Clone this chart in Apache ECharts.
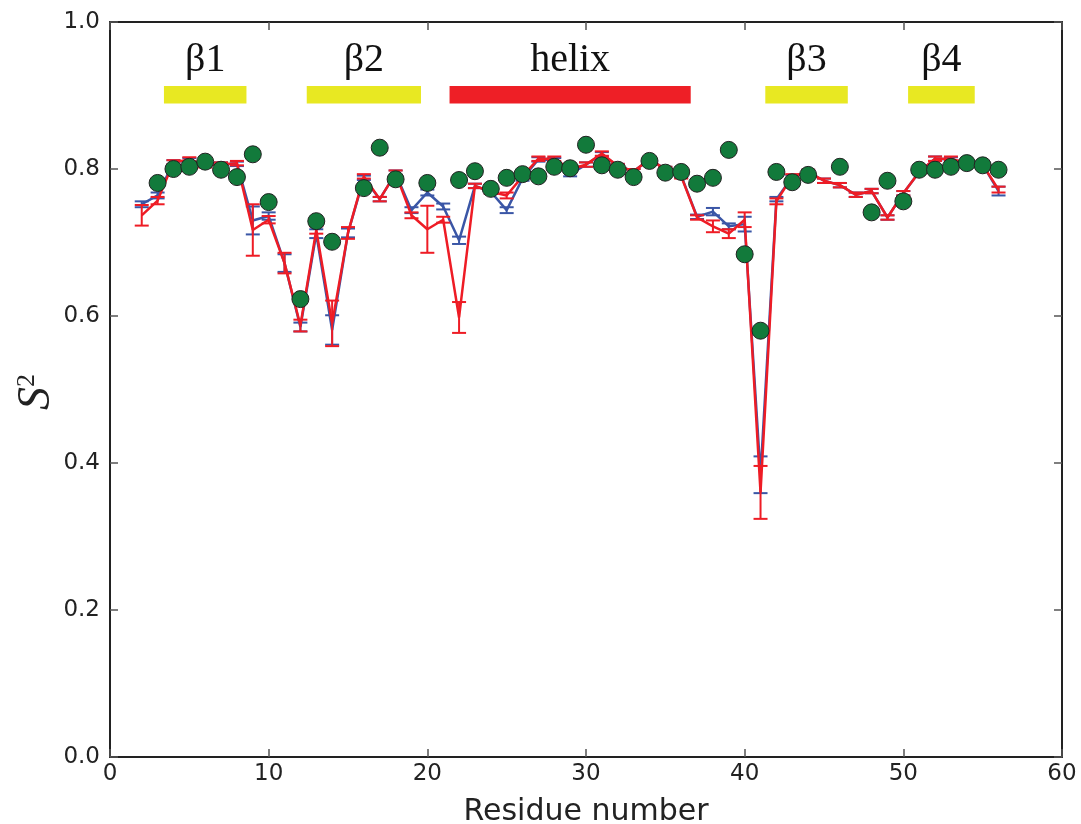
<!DOCTYPE html>
<html>
<head>
<meta charset="utf-8">
<script src="https://cdn.jsdelivr.net/npm/echarts@6/dist/echarts.min.js"></script>
<style>html,body{margin:0;padding:0;background:#fff;overflow:hidden;}#c{width:1081px;height:824px;}</style>
</head>
<body>
<div id="c"></div>
<script>
const residues = [2,3,4,5,6,7,8,9,10,11,12,13,14,15,16,17,18,19,20,21,22,23,24,25,26,27,28,29,30,31,32,33,34,35,36,37,38,39,40,41,42,43,44,45,46,47,48,49,50,51,52,53,54,55,56];
const blueS2 = [0.752,0.764,0.809,0.812,0.806,0.806,0.807,0.730,0.736,0.672,0.585,0.712,0.581,0.713,0.788,0.759,0.794,0.744,0.768,0.749,0.703,0.777,0.769,0.744,0.787,0.813,0.812,0.793,0.806,0.820,0.804,0.797,0.813,0.800,0.791,0.735,0.742,0.722,0.725,0.384,0.759,0.789,0.796,0.784,0.778,0.765,0.770,0.734,0.767,0.796,0.814,0.813,0.807,0.806,0.770];
const blueErr = [0.004,0.004,0.003,0.003,0.003,0.003,0.003,0.019,0.005,0.012,0.006,0.006,0.020,0.006,0.003,0.003,0.004,0.004,0.004,0.004,0.005,0.003,0.003,0.004,0.003,0.003,0.003,0.003,0.003,0.003,0.003,0.003,0.003,0.003,0.003,0.003,0.005,0.004,0.010,0.025,0.003,0.003,0.003,0.003,0.003,0.003,0.003,0.003,0.003,0.003,0.003,0.003,0.003,0.003,0.006];
const redS2 = [0.737,0.757,0.809,0.813,0.805,0.806,0.808,0.717,0.731,0.672,0.587,0.717,0.590,0.713,0.790,0.759,0.794,0.737,0.718,0.731,0.598,0.777,0.769,0.764,0.790,0.814,0.814,0.800,0.806,0.821,0.804,0.797,0.813,0.800,0.790,0.734,0.722,0.712,0.731,0.360,0.756,0.790,0.796,0.784,0.778,0.765,0.770,0.734,0.767,0.796,0.814,0.814,0.808,0.806,0.772];
const redErr = [0.014,0.005,0.003,0.003,0.003,0.003,0.003,0.035,0.005,0.014,0.008,0.005,0.031,0.008,0.003,0.003,0.004,0.004,0.032,0.004,0.021,0.003,0.003,0.004,0.003,0.003,0.003,0.003,0.003,0.003,0.003,0.003,0.003,0.003,0.003,0.003,0.008,0.006,0.010,0.036,0.004,0.003,0.003,0.003,0.003,0.003,0.003,0.003,0.003,0.003,0.003,0.003,0.003,0.003,0.004];
const expResidues = [3,4,5,6,7,8,9,10,12,13,14,16,17,18,20,22,23,24,25,26,27,28,29,30,31,32,33,34,35,36,37,38,39,40,41,42,43,44,46,48,49,50,51,52,53,54,55,56];
const expS2 = [0.781,0.800,0.803,0.810,0.799,0.789,0.820,0.755,0.623,0.729,0.701,0.774,0.829,0.786,0.781,0.785,0.797,0.773,0.788,0.793,0.790,0.803,0.801,0.833,0.805,0.799,0.789,0.811,0.795,0.796,0.780,0.788,0.826,0.684,0.580,0.796,0.782,0.792,0.803,0.741,0.784,0.756,0.799,0.799,0.803,0.808,0.805,0.799];
const ssLabels = ['β1','β2','helix','β3','β4'];
const ssStart = [3.4,12.4,21.4,41.3,50.3];
const ssEnd = [8.6,19.6,36.6,46.5,54.5];
const ssColors = ['#e8e822','#e8e822','#ee1f26','#e8e822','#e8e822'];
const xTicks = [0,10,20,30,40,50,60];
const yTicks = [0.0,0.2,0.4,0.6,0.8,1.0];

const BLUE = '#3a56a6';
const RED = '#ee1c25';

function pairs(xs, ys){ return xs.map((x,i)=>[x, ys[i]]); }
function errData(xs, ys, es){ return xs.map((x,i)=>[x, ys[i]-es[i], ys[i]+es[i]]); }
function errRender(color){
  return function(params, api){
    const x = api.value(0);
    const lo = api.coord([x, api.value(1)]);
    const hi = api.coord([x, api.value(2)]);
    const w = 7;
    const st = {stroke: color, lineWidth: 2};
    return {type:'group', children:[
      {type:'line', shape:{x1:lo[0],y1:lo[1],x2:hi[0],y2:hi[1]}, style:st},
      {type:'line', shape:{x1:lo[0]-w,y1:lo[1],x2:lo[0]+w,y2:lo[1]}, style:st},
      {type:'line', shape:{x1:hi[0]-w,y1:hi[1],x2:hi[0]+w,y2:hi[1]}, style:st}
    ]};
  };
}

const chart = echarts.init(document.getElementById('c'), null, {renderer:'canvas'});
const axisLineStyle = {color:'#222', width:2};
const tickStyle = {color:'#555', width:1.5};
chart.setOption({
  backgroundColor:'#fff',
  animation:false,
  grid:{left:110, right:19, top:22, bottom:67, containLabel:false, outerBoundsMode:'none'},
  graphic:[{
    type:'text', x:37, y:392, rotation:Math.PI/2, z:10,
    style:{
      text:'{s|S}{p|2}', align:'center', verticalAlign:'middle',
      rich:{
        s:{fontFamily:'Liberation Serif', fontStyle:'italic', fontSize:46, fill:'#222'},
        p:{fontFamily:'Liberation Serif', fontSize:26, fill:'#222', verticalAlign:'top', padding:[0,0,20,0]}
      }
    }
  }],
  xAxis:[{
    type:'value', min:0, max:60, interval:10, position:'bottom',
    name:'Residue number', nameLocation:'middle', nameGap:40,
    nameTextStyle:{fontFamily:'DejaVu Sans', fontSize:30, color:'#222'},
    axisLine:{show:true, onZero:false, lineStyle:axisLineStyle},
    axisTick:{show:true, inside:true, length:8, lineStyle:tickStyle},
    axisLabel:{fontFamily:'DejaVu Sans', fontSize:23, color:'#222', margin:6},
    splitLine:{show:false}
  },{
    type:'value', min:0, max:60, interval:10, position:'top',
    axisLine:{show:true, onZero:false, lineStyle:axisLineStyle},
    axisTick:{show:true, inside:true, length:8, lineStyle:tickStyle},
    axisLabel:{show:false}, splitLine:{show:false}
  }],
  yAxis:[{
    type:'value', min:0, max:1, interval:0.2, position:'left',
    axisLine:{show:true, onZero:false, lineStyle:axisLineStyle},
    axisTick:{show:true, inside:true, length:8, lineStyle:tickStyle},
    axisLabel:{fontFamily:'DejaVu Sans', fontSize:23, color:'#222', margin:10, formatter:v=>v.toFixed(1)},
    splitLine:{show:false}
  },{
    type:'value', min:0, max:1, interval:0.2, position:'right',
    axisLine:{show:true, onZero:false, lineStyle:axisLineStyle},
    axisTick:{show:true, inside:true, length:8, lineStyle:tickStyle},
    axisLabel:{show:false}, splitLine:{show:false}
  }],
  series:[
    {type:'line', data:pairs(residues, blueS2), symbol:'none', lineStyle:{color:BLUE, width:2.5}, z:2},
    {type:'custom', data:errData(residues, blueS2, blueErr), renderItem:errRender(BLUE), z:2},
    {type:'line', data:pairs(residues, redS2), symbol:'none', lineStyle:{color:RED, width:2.5}, z:3},
    {type:'custom', data:errData(residues, redS2, redErr), renderItem:errRender(RED), z:3},
    {type:'scatter', data:pairs(expResidues, expS2), symbol:'circle', symbolSize:17,
      itemStyle:{color:'#127a3b', borderColor:'#222', borderWidth:1, opacity:1}, z:5},
    {type:'custom', data:ssStart.map((s,i)=>[s, ssEnd[i]]), z:4,
      renderItem:function(params, api){
        const i = params.dataIndex;
        const p1 = api.coord([ssStart[i], 0.913]);
        const p2 = api.coord([ssEnd[i], 0.889]);
        const tc = api.coord([(ssStart[i]+ssEnd[i])/2, 0.947]);
        return {type:'group', children:[
          {type:'rect', shape:{x:p1[0], y:p1[1], width:p2[0]-p1[0], height:p2[1]-p1[1]}, style:{fill:ssColors[i]}},
          {type:'text', x:tc[0], y:tc[1], style:{text:ssLabels[i], fill:'#111', font:'40px "Liberation Serif"', align:'center', verticalAlign:'middle'}}
        ]};
      }
    }
  ]
});
</script>
</body>
</html>
